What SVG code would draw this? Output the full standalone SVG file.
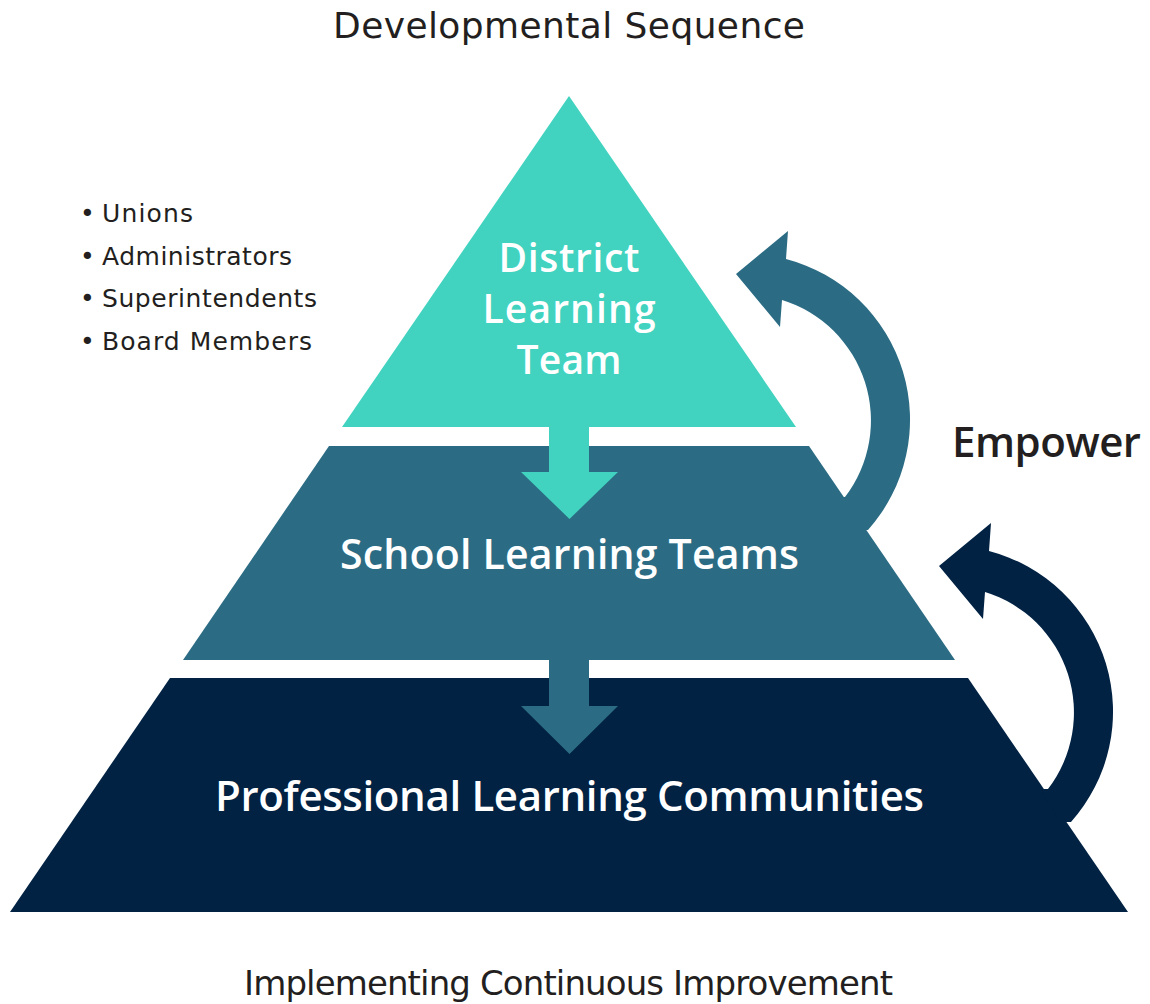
<svg xmlns="http://www.w3.org/2000/svg" width="1150" height="1004" viewBox="0 0 1150 1004">
<style>
.t1{fill:#41D3BF}
.t2{fill:#2B6C84}
.t3{fill:#012243}
.lbl{font-family:"Open Sans",Lato,"Liberation Sans",sans-serif;font-weight:600;fill:#ffffff;text-anchor:middle}
.plain{font-family:"DejaVu Sans","Open Sans","Liberation Sans",sans-serif;font-weight:400;fill:#231F20}
.bold{font-family:"Open Sans",Lato,"Liberation Sans",sans-serif;font-weight:600}
</style>
<rect width="1150" height="1004" fill="#ffffff"/>
<g id="district">
<polygon class="t1" points="569,96 796,427 342,427"/>
<text class="lbl" font-size="39" x="569" y="272" textLength="141">District</text>
<text class="lbl" font-size="39" x="569" y="323" textLength="173">Learning</text>
<text class="lbl" font-size="39" x="569" y="374" textLength="105">Team</text>
</g>
<g id="school">
<polygon class="t2" points="329,446 809,446 955,660 183,660"/>
<text class="lbl" font-size="41" x="569.5" y="569" textLength="459">School Learning Teams</text>
</g>
<g id="plc">
<polygon class="t3" points="170,678 968,678 1128,912 10,912"/>
<text class="lbl" font-size="42" x="569.5" y="811" textLength="709">Professional Learning Communities</text>
</g>
<g id="connectors">
<path class="t1" d="M549,427 L589,427 L589,472 L618,472 L569.5,519 L521,472 L549,472 Z"/>
<path class="t2" d="M549,660 L589,660 L589,706 L618,706 L569.5,754 L521,706 L549,706 Z"/>
<path class="t2" d="M860,530 L868,530 A166,166 0 0 0 786,259 L788,231 L736,274 L780,327 L782,300 A126,126 0 0 1 845,497 L838,497 Z"/>
<path class="t3" d="M1060,822 L1071,822 A166,166 0 0 0 989,551 L991,523 L939,566 L983,619 L985,592 A126,126 0 0 1 1048,789 L1040,789 Z"/>
</g>
<g id="labels">
<text class="plain" font-size="36" x="569" y="38" text-anchor="middle" textLength="472">Developmental Sequence</text>
<text class="plain" font-size="25"><tspan x="80" y="222">•</tspan><tspan x="102" y="222" textLength="91">Unions</tspan></text>
<text class="plain" font-size="25"><tspan x="80" y="265">•</tspan><tspan x="102" y="265" textLength="190">Administrators</tspan></text>
<text class="plain" font-size="25"><tspan x="80" y="307">•</tspan><tspan x="102" y="307" textLength="215">Superintendents</tspan></text>
<text class="plain" font-size="25"><tspan x="80" y="350">•</tspan><tspan x="102" y="350" textLength="210">Board Members</tspan></text>
<text class="plain bold" font-size="42" x="952" y="457" textLength="189">Empower</text>
<text class="plain" font-size="34" x="568.5" y="995" text-anchor="middle" textLength="649">Implementing Continuous Improvement</text>
</g>
</svg>
